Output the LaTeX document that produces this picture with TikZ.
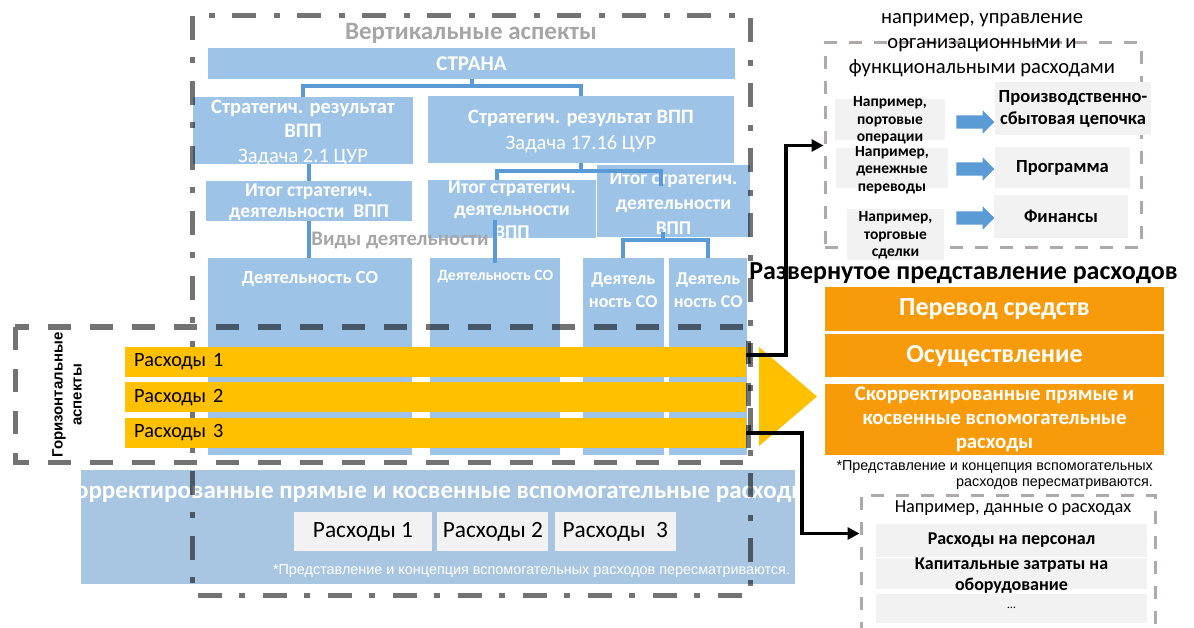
\documentclass[tikz,border=0pt]{standalone}
\usepackage{fontspec}
\setmainfont{Carlito}
\newfontfamily\arialfont{Liberation Sans}
\usetikzlibrary{arrows.meta,positioning,shapes.arrows}

\definecolor{boxblue}{HTML}{9DC3E6}
\definecolor{paleblue}{HTML}{A8C6E2}
\definecolor{linkblue}{HTML}{5B9BD5}
\definecolor{amber}{HTML}{FFC000}
\definecolor{deeporange}{HTML}{F89B0A}
\definecolor{lightgrey}{HTML}{F2F2F2}
\definecolor{titlegrey}{HTML}{A6A6A6}
\definecolor{framegrey}{HTML}{AEAAAA}

\newcommand{\fsize}[2]{\fontsize{#1}{#2}\selectfont}

\begin{document}
\begin{tikzpicture}[x=1pt,y=-1pt,>={Triangle[length=12pt,width=12pt]},
    box/.style={inner sep=0pt,align=center},
    blue box/.style={box,fill=boxblue,text=white,font=\bfseries\fsize{21}{25}},
    grey box/.style={box,fill=lightgrey,font=\bfseries\fsize{18.5}{22}},
    orange box/.style={box,fill=deeporange,text=white,font=\bfseries\fsize{26}{30},minimum width=339pt},
    cost bar/.style={fill=amber,inner xsep=9pt,inner ysep=0pt,text width=603pt,minimum height=30pt,align=left,font=\fsize{20.3}{24}},
    wlbl/.style={align=center,inner sep=0pt,text=white},
    blbl/.style={align=center,inner sep=0pt,text=black},
    link/.style={draw=linkblue,line width=4pt},
    conn/.style={->,line width=3.5pt},
    aspect frame/.style={draw=black,draw opacity=.55,line width=5pt},
    example frame/.style={draw=framegrey,line width=3pt,dash pattern=on 13pt off 12pt,inner sep=0pt},
    block arrow/.style={single arrow,fill=linkblue,inner xsep=0pt,inner ysep=6.5pt,minimum height=38pt,single arrow head extend=5pt}]

  \path[use as bounding box,fill=white] (0,0) rectangle (1194,628);

  \node[blue box,minimum width=527pt,minimum height=31pt] (strana) at (471.5,63.5) {СТРАНА};
  \node[blue box,minimum width=220pt,minimum height=67pt,
        label={[wlbl,font=\bfseries\fsize{20.5}{24.5},yshift=-2pt]center:{Стратегич. результат\\ВПП\\\mdseries Задача 2.1 ЦУР}}] (sr1) at (303,130.5) {};
  \node[blue box,minimum width=306pt,minimum height=67pt,
        label={[wlbl,font=\bfseries\fsize{20.5}{26},yshift=-1.5pt]center:{Стратегич. результат ВПП\\\mdseries Задача 17.16 ЦУР}}] (sr2) at (581,129.5) {};
  \node[blue box,minimum width=206pt,minimum height=40pt,
        label={[wlbl,font=\bfseries\fsize{19.5}{21},yshift=-1.5pt]center:{Итог стратегич.\\деятельности\ \ ВПП}}] (itog1) at (309,201) {};
  \node[blue box,minimum width=168pt,minimum height=58pt,
        label={[wlbl,font=\bfseries\fsize{19.5}{22.5},yshift=-.5pt]center:{Итог стратегич.\\деятельности\\ВПП}}] (itog2) at (512,209) {};
  \node[blue box,minimum width=153pt,minimum height=72pt,
        label={[wlbl,font=\bfseries\fsize{19.5}{25},yshift=-2pt]center:{Итог стратегич.\\деятельности\\ВПП}}] (itog3) at (673.5,201) {};

  \node[blue box,minimum width=204pt,minimum height=197pt,
        label={[wlbl,font=\bfseries\fsize{18.5}{22},yshift=77.5pt]center:{Деятельность СО}}] (act1) at (310,356.5) {};
  \node[blue box,minimum width=130pt,minimum height=197pt,right=18pt of act1,
        label={[wlbl,font=\bfseries\fsize{15.7}{18},yshift=79.5pt]center:{Деятельность СО}}] (act2) {};
  \node[blue box,minimum width=81pt,minimum height=197pt,right=22pt of act2,
        label={[wlbl,font=\bfseries\fsize{18}{23},yshift=66pt]center:{Деятель\\ность СО}}] (act3) {};
  \node[blue box,minimum width=78pt,minimum height=197pt,right=5pt of act3,
        label={[wlbl,font=\bfseries\fsize{18}{23},yshift=66pt]center:{Деятель\\ность СО}}] (act4) {};

  \draw[link] (strana.south) -- ++(0,7) -| (sr1.north);
  \draw[link] (strana.south) ++(0,7) -| (sr2.north);
  \draw[link] (itog1.north) -- (itog1.north |- sr1.south);
  \draw[link] (itog1.south) -- (itog1.south |- act1.north);
  \draw[link] (sr2.south) -- ++(0,8) -| ([xshift=-15pt]itog2.north);
  \draw[link] (sr2.south) ++(0,8) -| ([xshift=-12.5pt,yshift=-21pt]itog3.north);
  \draw[link] (act2.north |- itog2.south) ++(0,-18) -- ([yshift=-5pt]act2.north);
  \draw[link] ([xshift=-11pt,yshift=5pt]itog3.south) -- ++(0,8) -| (act3.north);
  \draw[link] ([xshift=-11pt,yshift=5pt]itog3.south) ++(0,8) -| (act4.north);

  \node[font=\bfseries\fsize{25}{29},text=titlegrey] (vtitle) at (471,33) {Вертикальные аспекты};
  \node[font=\bfseries\fsize{20.7}{24},text=titlegrey] (kinds) at (400,240) {Виды деятельности};

  \node[box,fill=paleblue,minimum width=714pt,minimum height=114pt] (total) at (438,527) {};
  \begin{scope}
    \clip (total.north west) rectangle (total.south east);
    \node[font=\bfseries\fsize{25.06}{29},text=white] (totaltitle) at ([xshift=-8.5pt,yshift=-22pt]total.north) {Скорректированные прямые и косвенные вспомогательные расходы};
  \end{scope}
  \node[box,fill=lightgrey,minimum width=138pt,minimum height=39pt,font=\fsize{23.3}{27}] (sum1) at (363,531.5) {Расходы 1};
  \node[box,fill=lightgrey,minimum width=111pt,minimum height=39pt,font=\fsize{23.3}{27},right=5pt of sum1] (sum2) {Расходы 2};
  \node[box,fill=lightgrey,minimum width=121pt,minimum height=39pt,font=\fsize{23.3}{27},right=6pt of sum2] (sum3) {Расходы\ \ 3};
  \node[anchor=east,inner sep=0pt,text=white,font=\arialfont\fsize{14.4}{16}] (totalnote) at ([xshift=-5pt,yshift=13pt]total.south east) {*Представление и концепция вспомогательных расходов пересматриваются.};

  \draw[aspect frame,dash pattern=on 24pt off 17pt on 6pt off 18pt] (192,16) rectangle (750,595);
  \draw[aspect frame,dash pattern=on 23pt off 19pt] (15,327) rectangle (748,462);
  \node[rotate=90,align=center,inner sep=0pt,font=\arialfont\bfseries\fsize{15}{19}] (horiz) at (67,395) {Горизонтальные\\аспекты};

  \node[cost bar] (cost1) at (435.5,362) {Расходы 1};
  \node[cost bar,below=5pt of cost1] (cost2) {Расходы 2};
  \node[cost bar,below=5pt of cost2] (cost3) {Расходы 3};
  \fill[amber] (759,347) -- (817,396.5) -- (759,446) -- cycle;

  \node[example frame,minimum width=316pt,minimum height=205pt] (ideas) at (983,145.5) {};
  \node[align=center,font=\fsize{20.6}{25}] (ideastitle) at (982,45) {например, управление\\организационными и\\функциональными расходами};
  \node[box,fill=lightgrey,minimum width=110pt,minimum height=41pt,
        label={[blbl,font=\bfseries\fsize{15.5}{17.5},yshift=-1pt]center:{Например,\\портовые\\операции}}] (case1) at (890,119.5) {};
  \node[box,fill=lightgrey,minimum width=112pt,minimum height=40pt,
        label={[blbl,font=\bfseries\fsize{15.5}{17.5},yshift=-2pt]center:{Например,\\денежные\\переводы}}] (case2) at (892,168) {};
  \node[box,fill=lightgrey,minimum width=97pt,minimum height=51pt,
        label={[blbl,font=\bfseries\fsize{15.5}{17.5},yshift=-1pt]center:{Например,\\торговые\\сделки}}] (case3) at (895.5,234.5) {};
  \node[block arrow] (arr1) at (972,122) {};
  \node[block arrow] (arr2) at (972,169) {};
  \node[block arrow] (arr3) at (972,218) {};
  \node[grey box,minimum width=156pt,minimum height=53pt] (area1) at (1073,108.5) {Производственно-\\сбытовая цепочка};
  \node[grey box,minimum width=135pt,minimum height=41pt] (area2) at (1062.5,167.5) {Программа};
  \node[grey box,minimum width=134pt,minimum height=43pt] (area3) at (1061,216.5) {Финансы};

  \node[font=\bfseries\fsize{26}{30}] (headline) at (963.5,273) {Развернутое представление расходов};
  \node[orange box,minimum height=44pt] (transfer) at (994.5,309) {Перевод средств};
  \node[orange box,minimum height=43pt,below=3pt of transfer] (implement) {Осуществление};
  \node[orange box,minimum height=71pt,below=6pt of implement,font=\bfseries\fsize{20.8}{24}] (adjusted) {Скорректированные прямые и\\косвенные вспомогательные\\расходы};
  \node[anchor=north east,align=right,inner sep=0pt,font=\arialfont\fsize{14.4}{16}] (note) at (1153,460) {*Представление и концепция вспомогательных\\расходов пересматриваются.};

  \node[example frame,minimum width=294pt,minimum height=160pt] (data) at (1008,575) {};
  \node[font=\fsize{18.3}{22}] (datatitle) at (1013,508) {Например, данные о расходах};
  \node[grey box,minimum width=271pt,minimum height=33pt,font=\bfseries\fsize{18}{21}] (staff) at (1011.5,540.5) {Расходы на персонал};
  \node[grey box,minimum width=271pt,minimum height=31pt,below=1pt of staff,
        label={[blbl,font=\bfseries\fsize{18}{21},yshift=-2pt]center:{Капитальные затраты на\\оборудование}}] (capex) {};
  \node[grey box,minimum width=271pt,minimum height=29pt,below=4pt of capex,font=\fsize{12}{14}] (more) {…};

  \draw[conn] ([yshift=7pt]cost1.east) -- ++(40,0) |- (ideas.west);
  \draw[conn] (cost3.east) -- ++(56,0) |- ([yshift=-40pt]data.north west);
\end{tikzpicture}
\end{document}
